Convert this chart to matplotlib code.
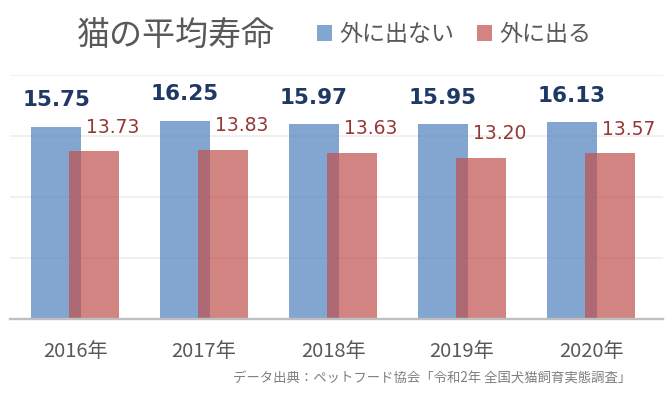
"""猫の平均寿命: 外に出ない / 外に出る の比較棒グラフ."""
import matplotlib
matplotlib.use('Agg')
import matplotlib.pyplot as plt
from matplotlib.patches import Patch
import numpy as np

plt.rcParams['font.family'] = ['Noto Sans CJK JP', 'DejaVu Sans']

years = ['2016年', '2017年', '2018年', '2019年', '2020年']
indoor = [15.75, 16.25, 15.97, 15.95, 16.13]
outdoor = [13.73, 13.83, 13.63, 13.20, 13.57]
series_names = ['外に出ない', '外に出る']
title = '猫の平均寿命'
source = 'データ出典：ペットフード協会「令和2年 全国犬猫飼育実態調査」'

BLUE = '#4F81BD'
RED = '#C0504D'
GRAY = '#595959'

fig = plt.figure(figsize=(6.71, 3.97), dpi=100)
ax = fig.add_axes([10 / 671, 1 - 319 / 397, 653 / 671, 244 / 397])

x = np.arange(len(years))
off = 0.147
width = 0.388
ax.bar(x - off, indoor, width, color=BLUE, alpha=0.7, zorder=2)
ax.bar(x + off, outdoor, width, color=RED, alpha=0.7, zorder=3)

for xi, v in zip(x, indoor):
    ax.annotate(f'{v:.2f}', (xi - off, v), xytext=(0, 19),
                textcoords='offset points', ha='center', va='center',
                fontsize=15.5, fontweight='bold', color='#1F3864',
                family='DejaVu Sans', zorder=5)
for xi, v in zip(x, outdoor):
    ax.annotate(f'{v:.2f}', (xi + off, v), xytext=(13.2, 17.6),
                textcoords='offset points', ha='center', va='center',
                fontsize=13.5, color='#953735',
                family='DejaVu Sans', zorder=5)

ax.set_xlim(-0.504, 4.558)
ax.set_ylim(0, 20)
ax.set_yticks([5, 10, 15, 20])
ax.yaxis.grid(True, color='#EFEFEF', linewidth=1.3, zorder=0)
ax.set_axisbelow(True)
ax.tick_params(axis='y', left=False, labelleft=False)
ax.set_xticks(x)
ax.set_xticklabels(years, fontsize=14.5, color=GRAY)
ax.tick_params(axis='x', length=0, pad=16)
for s in ['left', 'right', 'top']:
    ax.spines[s].set_visible(False)
ax.spines['bottom'].set_color('#BFBFBF')
ax.spines['bottom'].set_linewidth(1.7)
ax.spines['bottom'].set_zorder(4)

fig.text(77 / 671, 1 - 35 / 397, title, fontsize=23.8, color=GRAY,
         ha='left', va='center')

handles = [Patch(facecolor=BLUE, alpha=0.7), Patch(facecolor=RED, alpha=0.7)]
fig.legend(handles, series_names, loc='center left',
           bbox_to_anchor=(317 / 671, 1 - 34.5 / 397), ncol=2,
           frameon=False, fontsize=16.6, labelcolor=GRAY,
           handlelength=0.65, handleheight=0.65, handletextpad=0.3,
           columnspacing=1.0, borderpad=0, borderaxespad=0)

fig.text(631 / 671, 1 - 379 / 397, source, fontsize=9.6, color='#7F7F7F',
         ha='right', va='center')

fig.savefig('out.png', dpi=100)
